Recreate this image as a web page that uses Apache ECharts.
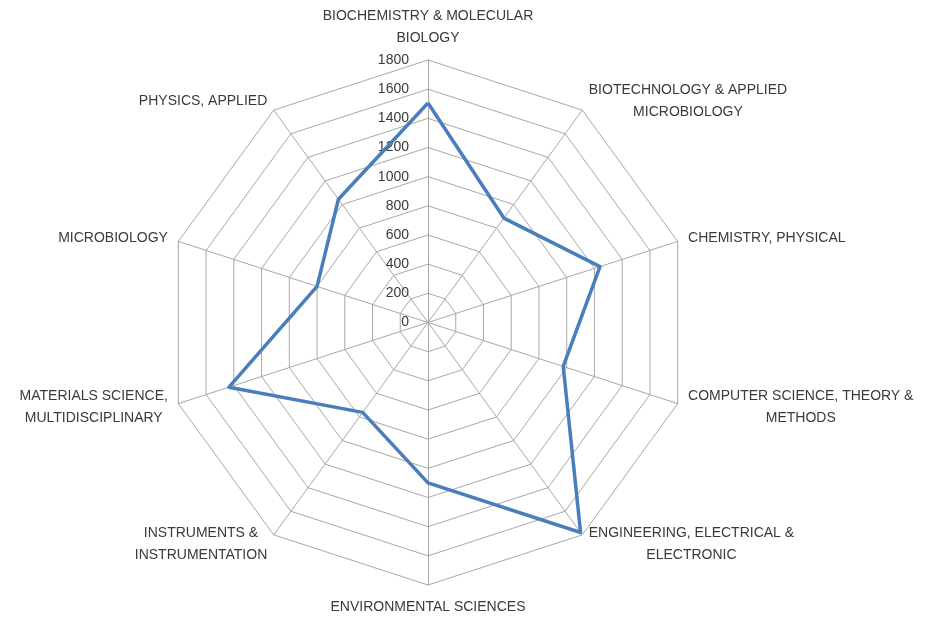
<!DOCTYPE html>
<html><head><meta charset="utf-8">
<script src="https://cdn.jsdelivr.net/npm/echarts@6/dist/echarts.min.js"></script>
<style>html,body{margin:0;padding:0;background:#fff}#c{width:927px;height:619px}</style>
</head><body><div id="c"></div>
<script>
// Categories clockwise from the top
const categories = [
  'BIOCHEMISTRY & MOLECULAR\nBIOLOGY',
  'BIOTECHNOLOGY & APPLIED\nMICROBIOLOGY',
  'CHEMISTRY, PHYSICAL',
  'COMPUTER SCIENCE, THEORY &\nMETHODS',
  'ENGINEERING, ELECTRICAL &\nELECTRONIC',
  'ENVIRONMENTAL SCIENCES',
  'INSTRUMENTS &\nINSTRUMENTATION',
  'MATERIALS SCIENCE,\nMULTIDISCIPLINARY',
  'MICROBIOLOGY',
  'PHYSICS, APPLIED'
];
const values = [1505, 885, 1240, 975, 1780, 1100, 762, 1435, 800, 1045];
const axisMin = 0;
const axisMax = 1800;
const axisStep = 200;

// ECharts places radar indicators counter-clockwise; reorder to run clockwise
const order = [0].concat(categories.map((_, i) => i).slice(1).reverse());
const indicator = order.map(i => ({ name: categories[i], min: axisMin, max: axisMax }));
const seriesValues = order.map(i => values[i]);

const font = 'Liberation Sans, Arial, sans-serif';
const textColor = '#3a3a3a';
const gridColor = '#a8a8a8';

const chart = echarts.init(document.getElementById('c'), null, { renderer: 'canvas' });
chart.setOption({
  animation: false,
  backgroundColor: '#ffffff',
  radar: {
    center: [428, 322.5],
    radius: 262.5,
    shape: 'polygon',
    splitNumber: (axisMax - axisMin) / axisStep,
    indicator: indicator,
    nameGap: 11,
    axisName: {
      color: textColor,
      fontSize: 14,
      fontFamily: font,
      lineHeight: 22,
      formatter: function (name) {
        return name.split('\n').map(l => '{c|' + l + '}').join('\n');
      },
      rich: {
        c: { align: 'center', color: textColor, fontSize: 14, fontFamily: font, lineHeight: 22 }
      }
    },
    axisLine: { lineStyle: { color: gridColor, width: 1 } },
    splitLine: { lineStyle: { color: gridColor, width: 1 } },
    splitArea: { show: false },
    axisTick: { show: false },
    axisLabel: { show: false }
  },
  grid: { left: 428, top: 60, width: 1, height: 262.5, containLabel: false },
  xAxis: { type: 'value', show: false },
  yAxis: {
    type: 'value', min: axisMin, max: axisMax, interval: axisStep,
    axisLine: { show: false }, axisTick: { show: false }, splitLine: { show: false },
    axisLabel: { margin: 19, color: textColor, fontSize: 14, fontFamily: font,
      formatter: function (v) { return String(v); } }
  },
  series: [{
    type: 'radar',
    symbol: 'none',
    lineStyle: { color: '#4A7EBB', width: 3.5 },
    data: [{ value: seriesValues, name: 'Publications' }]
  }]
});
</script>
</body></html>
